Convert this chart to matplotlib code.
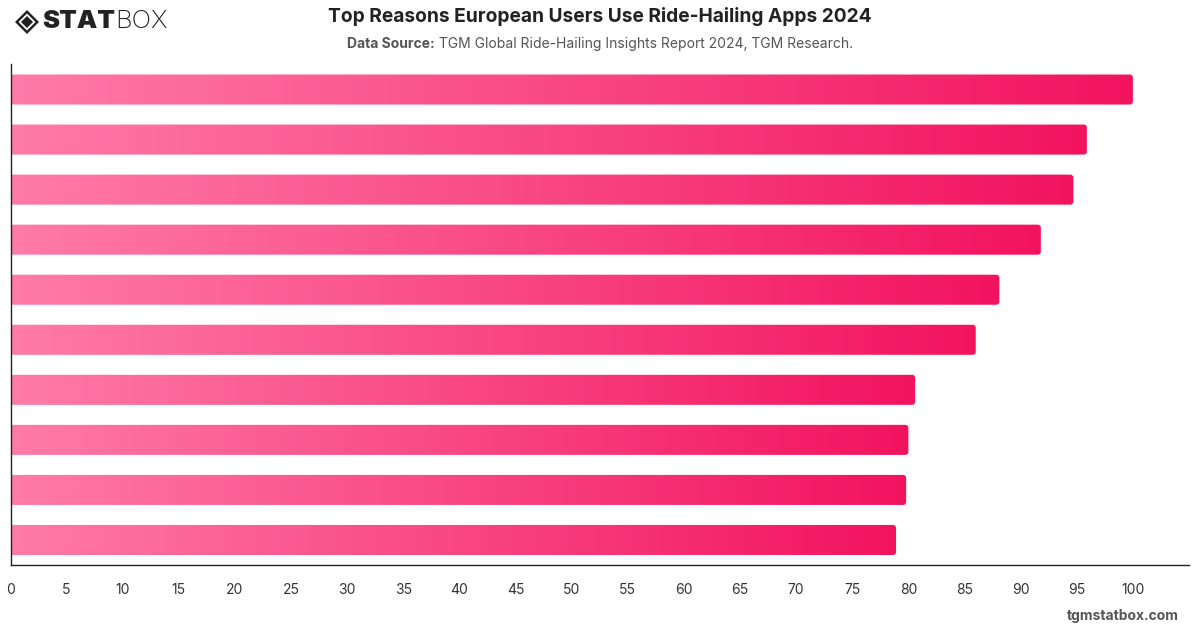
import matplotlib
matplotlib.use('Agg')
import matplotlib.pyplot as plt
from matplotlib.patches import FancyBboxPatch, Polygon
from matplotlib.colors import to_rgb
import numpy as np

plt.rcParams['font.family'] = ['Inter', 'DejaVu Sans']

# bars from top to bottom (labels are not shown in the chart)
ranks = list(range(1, 11))
values = [100.0, 95.9, 94.7, 91.8, 88.1, 86.0, 80.6, 80.0, 79.8, 78.9]
xticks = list(range(0, 101, 5))

title = 'Top Reasons European Users Use Ride-Hailing Apps 2024'
source_label = 'Data Source:'
source = ' TGM Global Ride-Hailing Insights Report 2024, TGM Research.'

c_left = np.array(to_rgb('#ff7ba8'))
c_right = np.array(to_rgb('#f2135f'))

W, H = 1200, 628
fig = plt.figure(figsize=(12, 6.28), dpi=100, facecolor='white')
ax = fig.add_axes([10.5 / W, 1 - 565 / H, (1189 - 10.5) / W, (565 - 64.5) / H])

grad = np.linspace(0, 1, 256)
img = (c_left[None, None, :] * (1 - grad)[None, :, None]
       + c_right[None, None, :] * grad[None, :, None])

bar_h = 0.6
for i, v in enumerate(values):
    patch = FancyBboxPatch((0, i - bar_h / 2), v, bar_h,
                           boxstyle='round,pad=0,rounding_size=0.27',
                           mutation_aspect=0.22, facecolor='none',
                           edgecolor='none')
    ax.add_patch(patch)
    im = ax.imshow(img, extent=(0, v, i + bar_h / 2, i - bar_h / 2),
                   aspect='auto', interpolation='bilinear', zorder=2)
    im.set_clip_path(patch)

ax.set_xlim(0, 105)
ax.set_ylim(len(values) - 0.5, -0.5)
ax.set_yticks([])
ax.set_xticks(xticks)
ax.set_xticklabels([str(t) for t in xticks])
ax.tick_params(axis='x', length=0, pad=13, labelsize=10, labelcolor='#333333')
for s in ['top', 'right']:
    ax.spines[s].set_visible(False)
for s in ['left', 'bottom']:
    ax.spines[s].set_color('#222222')
    ax.spines[s].set_linewidth(1.0)
ax.set_facecolor('white')

renderer = fig.canvas.get_renderer()

# title and subtitle
fig.text(0.5, 1 - 17 / H, title, ha='center', va='center',
         fontsize=13.8, fontweight='bold', color='#222222')
ta = fig.text(0, 1 - 44 / H, source_label, ha='left', va='center',
              fontsize=10, fontweight='bold', color='#555555')
tb = fig.text(0, 1 - 44 / H, source, ha='left', va='center',
              fontsize=10, color='#555555')
wa = ta.get_window_extent(renderer).width
wb = tb.get_window_extent(renderer).width
x0 = (W - wa - wb) / 2
ta.set_x(x0 / W)
tb.set_x((x0 + wa) / W)

# logo
cx, cy, r = 27 / W, 1 - 22 / H, 12
def diamond(rad):
    return [(cx - rad / W, cy), (cx, cy + rad / H), (cx + rad / W, cy), (cx, cy - rad / H)]
fig.patches.append(Polygon(diamond(r), closed=True, transform=fig.transFigure,
                           facecolor='#222222', edgecolor='none'))
fig.patches.append(Polygon(diamond(r - 3.5), closed=True, transform=fig.transFigure,
                           facecolor='white', edgecolor='none'))
fig.patches.append(Polygon(diamond(r - 6), closed=True, transform=fig.transFigure,
                           facecolor='#222222', edgecolor='none'))
ts = fig.text(42 / W, 1 - 22 / H, 'STAT', ha='left', va='center', fontsize=18.5,
              fontweight='black', color='#222222')
ws = ts.get_window_extent(renderer).width
fig.text((42 + ws) / W, 1 - 22 / H, 'BOX', ha='left', va='center', fontsize=18.5,
         fontweight='light', color='#222222')

# watermark
fig.text(1179 / W, 1 - 616 / H, 'tgmstatbox.com', ha='right', va='center',
         fontsize=10, fontweight='bold', color='#555555')

fig.savefig('out.png', dpi=100, facecolor='white')
